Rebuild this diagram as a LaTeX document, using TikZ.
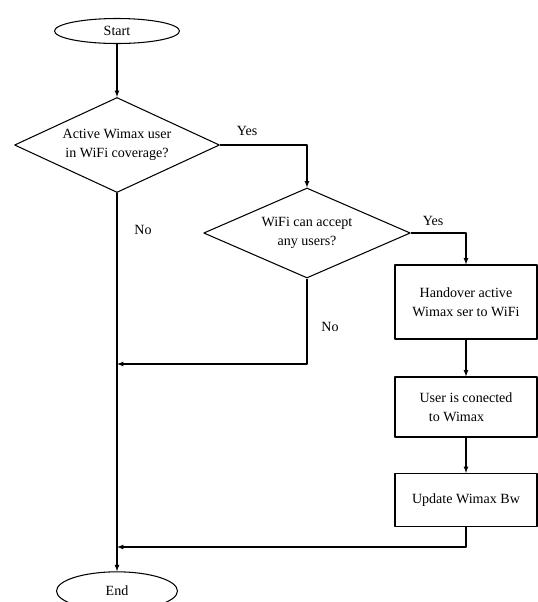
\documentclass[tikz,border=0pt]{standalone}
\usepackage{fontspec}
\setmainfont{Liberation Serif}
\usetikzlibrary{shapes.geometric}
\begin{document}
\begin{tikzpicture}[line join=round, >=latex, x=0.03cm, y=-0.03cm, line width=0.9pt,
        font=\fontsize{12}{16}\selectfont,
        term/.style={draw, ellipse, inner sep=0pt},
        decide/.style={draw, diamond, aspect=2.2, inner sep=0pt, align=center},
        proc/.style={draw, rectangle, minimum width=4.26cm, align=center}]
            \useasboundingbox (0,0) rectangle (538,602);
            \node[term, minimum width=3.75cm, minimum height=0.75cm] (start) at (117,31) {Start};
            \node[decide, minimum width=6.15cm, minimum height=2.85cm] (cover) at (117,145) {Active Wimax user\\in WiFi coverage?};
            \node[decide, minimum width=6.2cm, minimum height=2.7cm] (accept) at (307,233) {WiFi can accept\\any users?};
            \node[proc, minimum height=2.22cm] (handover) at (466,302) {Handover active\\Wimax ser to WiFi};
            \node[proc, minimum height=1.8cm, align=left] (connected) at (466,407) {User is conected\\\hspace{8pt}to Wimax};
            \node[proc, minimum height=1.59cm] (update) at (466,500) {Update Wimax Bw};
            \node[term, minimum width=3.63cm, minimum height=1.15cm] (end) at (117,591) {End};
            \coordinate (join1) at (117,364);
            \coordinate (join2) at (117,547);
            %labels
            \node (yes1) at (247,131) {Yes};
            \node (yes2) at (433,221) {Yes};
            \node (no1) at (143,230) {No};
            \node (no2) at (330,327) {No};
            \draw[->] (start) -- (cover);
            \draw[->] (cover.east) -| (accept.north);
            \draw[->] (accept.east) -| (handover.north);
            \draw[->] (handover) -- (connected);
            \draw[->] (connected) -- (update);
            \draw[->] (cover.south) -- (end.north);
            \draw[->] (accept.south) |- (join1);
            \draw[->] (update.south) |- (join2);
        \end{tikzpicture}
\end{document}
